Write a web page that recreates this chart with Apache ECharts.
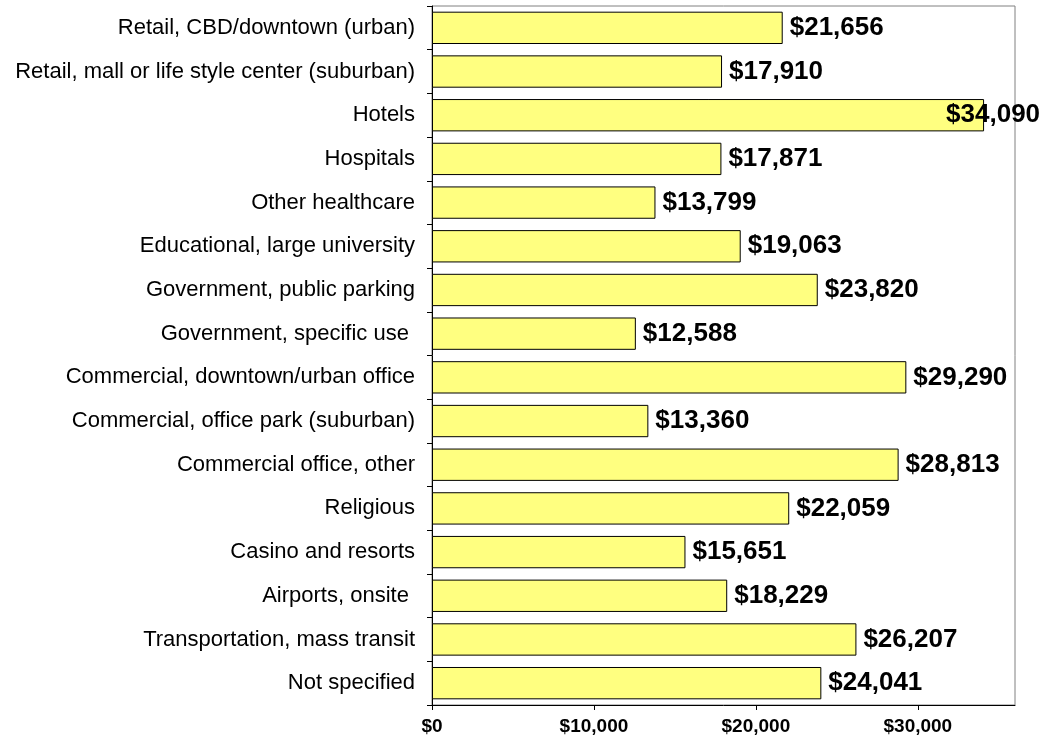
<!DOCTYPE html>
<html>
<head>
<meta charset="utf-8">
<script src="https://cdn.jsdelivr.net/npm/echarts@6/dist/echarts.min.js"></script>
<style>
html,body{margin:0;padding:0;background:#fff;}
#chart{width:1058px;height:738px;}
</style>
</head>
<body>
<div id="chart"></div>
<script>
const categories = [
  "Retail, CBD/downtown (urban)",
  "Retail, mall or life style center (suburban)",
  "Hotels",
  "Hospitals",
  "Other healthcare",
  "Educational, large university",
  "Government, public parking",
  "Government, specific use ",
  "Commercial, downtown/urban office",
  "Commercial, office park (suburban)",
  "Commercial office, other",
  "Religious",
  "Casino and resorts",
  "Airports, onsite ",
  "Transportation, mass transit",
  "Not specified"
];
const values = [21656, 17910, 34090, 17871, 13799, 19063, 23820, 12588, 29290, 13360, 28813, 22059, 15651, 18229, 26207, 24041];
const tickValues = [0, 10000, 20000, 30000];
const axisMax = 36000;
const axisInterval = 10000;

function money(v){
  return '$' + String(Math.round(v)).replace(/\B(?=(\d{3})+(?!\d))/g, ',');
}

// labels that would run past the canvas edge are pulled back over the bar end
const seriesData = values.map(function(v){
  if (v > 32000) {
    return {value: v, label: {offset: [-45, 0]}};
  }
  return v;
});

const chart = echarts.init(document.getElementById('chart'), null, {renderer:'canvas'});
chart.setOption({
  animation: false,
  backgroundColor: '#ffffff',
  grid: {
    left: 432, right: 43, top: 6, bottom: 33,
    show: true, borderColor: '#808080', borderWidth: 1, backgroundColor: 'transparent'
  },
  xAxis: {
    type: 'value',
    min: 0, max: axisMax, interval: axisInterval,
    axisLine: {show: true, lineStyle: {color: '#000', width: 1}},
    axisTick: {show: true, length: 5, lineStyle: {color: '#000'}, customValues: tickValues},
    splitLine: {show: false},
    axisLabel: {
      color: '#000', fontFamily: 'Liberation Sans, Arial', fontWeight: 'bold', fontSize: 19,
      margin: 12,
      customValues: tickValues,
      formatter: function(v){ return money(v); }
    }
  },
  yAxis: {
    type: 'category',
    inverse: true,
    data: categories,
    axisLine: {show: true, lineStyle: {color: '#000', width: 1}},
    axisTick: {show: true, length: 5, lineStyle: {color: '#000'}},
    axisLabel: {
      color: '#000', fontFamily: 'Liberation Sans, Arial', fontSize: 22, margin: 17
    }
  },
  series: [{
    type: 'bar',
    data: seriesData,
    barCategoryGap: '26%',
    itemStyle: {color: '#FFFF80', borderColor: '#000', borderWidth: 1},
    label: {
      show: true, position: 'right', distance: 7,
      color: '#000', fontFamily: 'Liberation Sans, Arial', fontWeight: 'bold', fontSize: 26,
      formatter: function(p){ return money(p.value); }
    }
  }]
});
</script>
</body>
</html>
